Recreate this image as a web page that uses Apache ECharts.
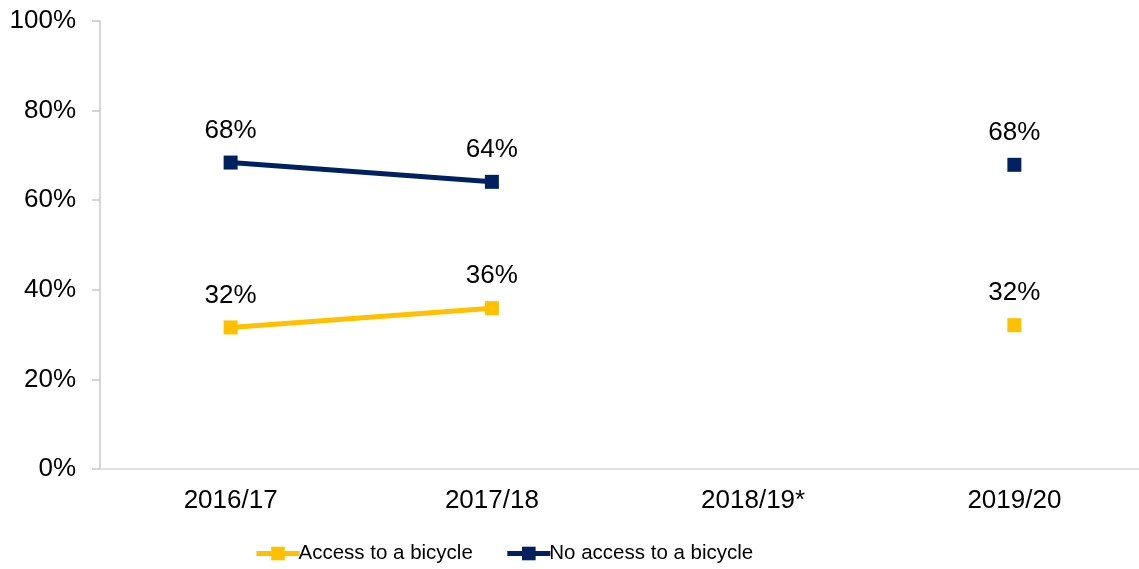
<!DOCTYPE html>
<html>
<head>
<meta charset="utf-8">
<script src="https://cdn.jsdelivr.net/npm/echarts@6/dist/echarts.min.js"></script>
<style>
html,body{margin:0;padding:0;background:#fff;overflow:hidden;width:1139px;height:569px;}
#chart{width:1145px;height:569px;}
</style>
</head>
<body>
<div id="chart"></div>
<script>
const categories = ['2016/17', '2017/18', '2018/19*', '2019/20'];
const accessValues = [31.6, 35.9, null, 32.1];
const noAccessValues = [68.4, 64.1, null, 67.9];
const yTicks = [0, 20, 40, 60, 80, 100];
const seriesNames = ['Access to a bicycle', 'No access to a bicycle'];

const FONT = '"Liberation Sans", Arial, sans-serif';
const chart = echarts.init(document.getElementById('chart'), null, {renderer: 'canvas'});

function makeSeries(name, data, color) {
  return {
    name: name,
    type: 'line',
    data: data,
    connectNulls: false,
    symbol: 'rect',
    symbolSize: 14,
    showAllSymbol: true,
    lineStyle: {color: color, width: 5},
    itemStyle: {color: color},
    label: {
      show: true,
      position: 'top',
      distance: 12,
      color: '#000',
      fontFamily: FONT,
      fontSize: 26,
      formatter: p => Math.round(p.value) + '%'
    },
    emphasis: {disabled: true},
    animation: false
  };
}

chart.setOption({
  animation: false,
  backgroundColor: '#fff',
  grid: {left: 100, right: 0, top: 21, bottom: 100, containLabel: false},
  legend: {
    left: 249,
    bottom: 0,
    itemWidth: 43,
    itemHeight: 17,
    itemGap: 32,
    lineStyle: {width: 5},
    textStyle: {fontFamily: FONT, fontSize: 20.5, color: '#000', padding: [0,0,0,-6]},
    data: seriesNames
  },
  xAxis: {
    type: 'category',
    data: categories,
    boundaryGap: true,
    axisLine: {lineStyle: {color: '#D9D9D9', width: 1.5}},
    axisTick: {show: false},
    axisLabel: {color: '#000', fontFamily: FONT, fontSize: 26, margin: 19}
  },
  yAxis: {
    type: 'value',
    min: yTicks[0],
    max: yTicks[yTicks.length - 1],
    interval: 20,
    splitLine: {show: false},
    axisLine: {show: true, lineStyle: {color: '#C8C8C8', width: 1.5}},
    axisTick: {show: true, length: 8, lineStyle: {color: '#C8C8C8', width: 1.5}},
    axisLabel: {color: '#000', fontFamily: FONT, fontSize: 26, margin: 24, formatter: v => v + '%'}
  },
  series: [
    makeSeries(seriesNames[0], accessValues, '#FFC000'),
    makeSeries(seriesNames[1], noAccessValues, '#002060')
  ]
});
</script>
</body>
</html>
